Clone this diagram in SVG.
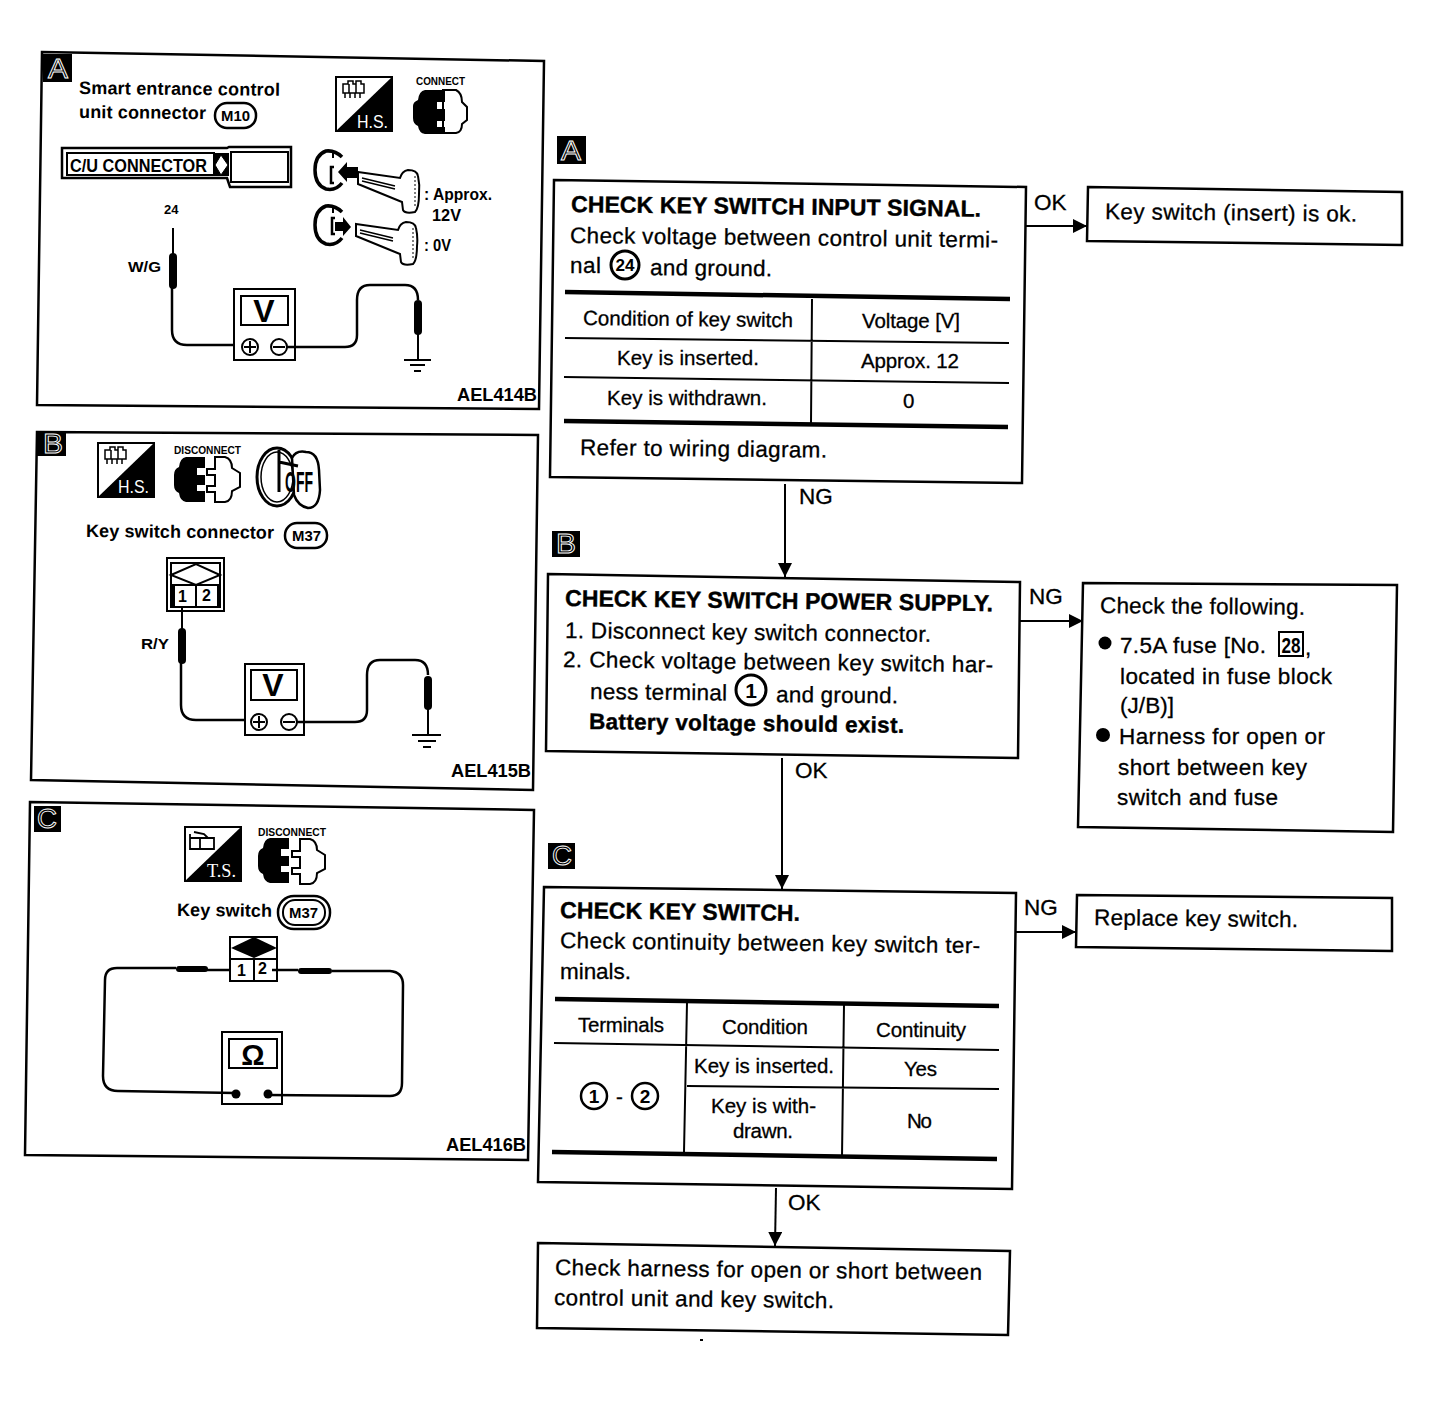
<svg xmlns="http://www.w3.org/2000/svg" xmlns:xlink="http://www.w3.org/1999/xlink" width="1440" height="1420" viewBox="0 0 1440 1420">
<style>
text{font-family:"Liberation Sans",Arial,sans-serif;fill:#000}
.f{font-size:22.5px;stroke:#000;stroke-width:.3}
.r{font-size:20.5px;stroke:#000;stroke-width:.3}
.h{font-size:23px;font-weight:bold;stroke:#000;stroke-width:.4}
.s{font-size:18px;font-weight:bold}
.c{font-size:19px;font-weight:bold}
.t{font-size:10px;font-weight:bold}
.m{font-size:14px;font-weight:bold}
.box,.pn{fill:none;stroke:#000;stroke-width:2.5}
.ln{fill:none;stroke:#000;stroke-width:2}
.th{fill:none;stroke:#000;stroke-width:4.5}
.w{fill:none;stroke:#000;stroke-width:2.5}
.pr{fill:none;stroke:#000;stroke-width:8;stroke-linecap:round}
.wf{fill:#fff;stroke:#000;stroke-width:2}
.bd{fill:#000}
text.bl{font-size:27px;fill:#000;stroke:#fff;stroke-width:.9}
text.ic{font-size:18px;fill:#fff}
.arr{fill:none;stroke:#000;stroke-width:2;marker-end:url(#ah)}
</style>
<defs>
<marker id="ah" markerUnits="userSpaceOnUse" markerWidth="14" markerHeight="14" refX="14" refY="7" orient="auto"><path d="M0 0L14 7L0 14Z" fill="#000"/></marker>
<g id="hs">
<rect x="1" y="1" width="56" height="54" fill="#fff" stroke="#000" stroke-width="2"/>
<path d="M57 1V55H1Z" fill="#000"/>
</g>
<path id="hsg" d="M8 8h5v-3h5v3h3v-3h5v3h3v9h-21zM10 17v5M15 17v5M20 17v5M25 17v5M14 8v9M21 8v9" fill="none" stroke="#000" stroke-width="1.5"/>
<g id="conL"><path d="M12 0H31V11H23V18H31V28H23V34H31V45H12Q6 44 5 36Q0 34 0 28V18Q0 12 5 10Q6 1 12 0Z" fill="#000"/></g>
<g id="conR"><path d="M10 1H20Q27 3 27 12L35 17V31L27 35Q27 45 20 46H10V36H2V30H10V19H2V13H10Z" fill="#fff" stroke="#000" stroke-width="2"/></g>
<g id="key"><path d="M358 172L400 178Q402 171 408 170Q417 170 418 176Q420 185 419 194Q419 208 415 212Q405 214 403 210L402 202L358 184Z" fill="#fff" stroke="#000" stroke-width="2"/><path d="M362 178L395 186M362 181L395 189" stroke="#000" stroke-width="1.5" fill="none"/><path d="M415 176V208" stroke="#000" stroke-width="1" stroke-dasharray="2 2"/></g>
<g id="ign"><path d="M342 157Q335 150 326 151Q315 155 315 170Q315 185 326 189Q336 191 342 183" fill="none" stroke="#000" stroke-width="3.5"/><path d="M333 150V158" class="ln"/></g>
</defs>
<rect width="1440" height="1420" fill="#fff"/>

<g id="panel-a">
<path class="pn" d="M42 52L544 61L539 409L37 405Z"/>
<rect class="bd" x="43" y="54" width="29" height="28"/><text class="bl" x="48" y="78" textLength="20" lengthAdjust="spacingAndGlyphs">A</text>
<text class="s" x="79" y="94" textLength="201" transform="rotate(.5 79 94)">Smart entrance control</text>
<text class="s" x="79" y="118" textLength="127" transform="rotate(.5 79 118)">unit connector</text>
<rect x="215" y="103" width="41" height="25" rx="12" fill="none" stroke="#000" stroke-width="2.5"/><text class="m" x="221" y="121" textLength="29" lengthAdjust="spacingAndGlyphs">M10</text>
<use xlink:href="#hs" href="#hs" x="335" y="76"/><use xlink:href="#hsg" href="#hsg" x="335" y="76"/><text class="ic" x="357" y="128" textLength="31" lengthAdjust="spacingAndGlyphs">H.S.</text>
<text class="t" x="416" y="85" textLength="49" lengthAdjust="spacingAndGlyphs">CONNECT</text>
<path d="M443 90H456Q462 93 462 102L467 107V120L462 124Q462 132 456 133H443Z" fill="#fff" stroke="#000" stroke-width="2"/>
<path d="M425 90H445V102H437V109H445V121H437V127H445V134H425Q419 133 418 126Q413 124 413 118V106Q413 102 418 100Q419 91 425 90Z" fill="#000"/>
<path d="M62 148H227L229 147H291V187H230L227 178H62Z" fill="#fff" stroke="#000" stroke-width="2.5"/>
<rect x="67" y="153" width="147" height="22" fill="none" stroke="#000" stroke-width="2"/>
<rect x="231" y="152" width="57" height="30" fill="none" stroke="#000" stroke-width="2"/>
<rect x="214" y="153" width="15" height="23" class="bd"/>
<path d="M221 155L228 165L221 175L215 165Z" fill="#fff" stroke="#000" stroke-width="1"/>
<text class="s" x="70" y="172" textLength="137" lengthAdjust="spacingAndGlyphs">C/U CONNECTOR</text>
<use xlink:href="#ign" href="#ign"/>
<path d="M334 167H331V183H334" fill="none" stroke="#000" stroke-width="2.5"/>
<use xlink:href="#key" href="#key"/>
<path d="M358 167V178H347V182L338 172L347 162V167Z" class="bd"/>
<use xlink:href="#ign" href="#ign" y="55"/>
<path d="M335 218H332V234H335" fill="none" stroke="#000" stroke-width="2.5"/>
<use xlink:href="#key" href="#key" x="-2" y="52"/>
<path d="M335 222H343V217L351 227L343 236V231H335Z" class="bd"/>
<text x="424" y="200" font-size="17" font-weight="bold" textLength="68" lengthAdjust="spacingAndGlyphs">: Approx.</text>
<text x="432" y="221" font-size="17" font-weight="bold" textLength="29" lengthAdjust="spacingAndGlyphs">12V</text>
<text x="424" y="251" font-size="17" font-weight="bold" textLength="27" lengthAdjust="spacingAndGlyphs">: 0V</text>
<text x="164" y="214" font-size="13" font-weight="bold">24</text>
<text x="128" y="272" font-size="15" font-weight="bold" textLength="33" lengthAdjust="spacingAndGlyphs">W/G</text>
<path class="ln" d="M173 228V255"/><path class="pr" d="M173 257V285"/>
<path class="w" d="M172 287V330Q172 345 187 345H240"/>
<rect x="234" y="289" width="61" height="71" class="wf"/><rect x="241" y="296" width="47" height="29" class="wf"/>
<text x="264" y="322" font-size="32" font-weight="bold" text-anchor="middle">V</text>
<circle cx="250" cy="347" r="8" class="wf"/><path d="M244 347H256M250 341V353" class="ln"/>
<circle cx="279" cy="347" r="8" class="wf"/><path d="M273 347H285" class="ln"/>
<path class="w" d="M287 347H345Q357 347 357 335V300Q357 285 370 285H405Q418 285 418 300"/>
<path class="pr" d="M418 304V331"/><path class="ln" d="M418 333V359"/>
<path class="ln" d="M404 360H431M410 365H425M414 371H421"/>
<text class="c" x="457" y="401" textLength="80" lengthAdjust="spacingAndGlyphs">AEL414B</text>
</g>

<g id="panel-b">
<path class="pn" d="M37 432L538 435L533 790L31 780Z"/>
<rect class="bd" x="37" y="432" width="29" height="24"/><text class="bl" x="43" y="453" textLength="20" lengthAdjust="spacingAndGlyphs">B</text>
<use xlink:href="#hs" href="#hs" x="97" y="442"/><use xlink:href="#hsg" href="#hsg" x="97" y="442"/><text class="ic" x="118" y="493" textLength="31" lengthAdjust="spacingAndGlyphs">H.S.</text>
<text class="t" x="174" y="454" textLength="67" lengthAdjust="spacingAndGlyphs">DISCONNECT</text>
<use xlink:href="#conR" href="#conR" x="205" y="456"/><use xlink:href="#conL" href="#conL" x="174" y="457"/>
<ellipse cx="277" cy="477" rx="20" ry="29" fill="#fff" stroke="#000" stroke-width="3"/>
<ellipse cx="277" cy="477" rx="16" ry="25" fill="none" stroke="#000" stroke-width="1.5"/>
<path d="M292 458Q296 450 306 452Q318 452 319 470L320 490Q319 508 308 508Q298 506 294 495Z" fill="#fff" stroke="#000" stroke-width="2.5"/>
<path d="M279 450V492M279 462L298 466" fill="none" stroke="#000" stroke-width="3"/>
<text x="285" y="492" font-size="30" font-weight="bold" textLength="28" lengthAdjust="spacingAndGlyphs">OFF</text>
<text class="s" x="86" y="537" textLength="188" transform="rotate(.5 86 537)">Key switch connector</text>
<rect x="285" y="523" width="42" height="25" rx="12" fill="none" stroke="#000" stroke-width="2.5"/><text class="m" x="292" y="541" textLength="29" lengthAdjust="spacingAndGlyphs">M37</text>
<rect x="167" y="558" width="57" height="53" class="wf"/><rect x="171" y="563" width="49" height="44" class="wf"/>
<path d="M171 575L196 564L220 575L196 585Z" fill="none" stroke="#000" stroke-width="2"/><path d="M171 585H220M196 585V606" class="ln"/>
<rect x="172" y="586" width="3" height="20" class="bd"/><rect x="217" y="586" width="3" height="20" class="bd"/>
<text x="178" y="602" font-size="16" font-weight="bold">1</text><text x="202" y="601" font-size="16" font-weight="bold">2</text>
<path class="ln" d="M182 608V630"/><path class="pr" d="M182 632V660"/>
<path class="w" d="M181 662V705Q181 720 196 720H250"/>
<rect x="245" y="664" width="59" height="71" class="wf"/><rect x="251" y="670" width="46" height="30" class="wf"/>
<text x="273" y="696" font-size="32" font-weight="bold" text-anchor="middle">V</text>
<circle cx="259" cy="722" r="8" class="wf"/><path d="M253 722H265M259 716V728" class="ln"/>
<circle cx="289" cy="722" r="8" class="wf"/><path d="M283 722H295" class="ln"/>
<path class="w" d="M297 722H355Q367 722 367 710V675Q367 660 380 660H415Q428 660 428 675"/>
<path class="pr" d="M428 680V706"/><path class="ln" d="M428 708V735"/>
<path class="ln" d="M412 735H441M418 741H436"/><path d="M423 747H431" class="ln"/>
<text x="141" y="649" font-size="15" font-weight="bold" textLength="28" lengthAdjust="spacingAndGlyphs">R/Y</text>
<text class="c" x="451" y="777" textLength="80" lengthAdjust="spacingAndGlyphs">AEL415B</text>
</g>

<g id="panel-c">
<path class="pn" d="M30 802L534 810L528 1160L25 1155Z"/>
<rect class="bd" x="34" y="806" width="27" height="26"/><text class="bl" x="37" y="828" textLength="20" lengthAdjust="spacingAndGlyphs">C</text>
<use xlink:href="#hs" href="#hs" x="184" y="826"/>
<path d="M190 838H214V849H190ZM190 838V834M200 838V849M194 832L204 834L208 838" fill="none" stroke="#000" stroke-width="1.8"/>
<text class="ic" x="207" y="877" textLength="29" lengthAdjust="spacingAndGlyphs" style="font-family:'Liberation Serif',serif">T.S.</text>
<text class="t" x="258" y="836" textLength="68" lengthAdjust="spacingAndGlyphs">DISCONNECT</text>
<use xlink:href="#conR" href="#conR" x="290" y="838"/><use xlink:href="#conL" href="#conL" x="258" y="838"/>
<text class="s" x="177" y="916" textLength="95" transform="rotate(.5 177 916)">Key switch</text>
<rect x="278" y="896" width="52" height="33" rx="16" fill="none" stroke="#000" stroke-width="2.5"/>
<rect x="283" y="900" width="42" height="25" rx="12" fill="none" stroke="#000" stroke-width="2"/><text class="m" x="289" y="918" textLength="29" lengthAdjust="spacingAndGlyphs">M37</text>
<rect x="230" y="937" width="47" height="44" class="wf"/>
<path d="M231 948L254 937L277 948L254 958Z" class="bd"/><path d="M231 959H277M254 959V981" class="ln"/>
<text x="237" y="976" font-size="16" font-weight="bold">1</text><text x="258" y="974" font-size="16" font-weight="bold">2</text>
<path class="pr" style="stroke-width:6" d="M179 969H205"/>
<path class="w" d="M231 970H205M176 968H117Q105 968 105 980L103 1076Q103 1091 118 1091L235 1093"/>
<path class="pr" style="stroke-width:6" d="M301 971H329"/>
<path class="w" d="M272 970H298M332 971H390Q403 972 403 985L402 1083Q402 1096 390 1096L268 1095"/>
<rect x="222" y="1032" width="60" height="72" fill="none" stroke="#000" stroke-width="2"/><rect x="229" y="1039" width="48" height="29" class="wf"/>
<text x="253" y="1065" font-size="29" font-weight="bold" text-anchor="middle">Ω</text>
<circle cx="236" cy="1094" r="4.5" class="bd"/><circle cx="268" cy="1094" r="4.5" class="bd"/>
<text class="c" x="446" y="1151" textLength="80" lengthAdjust="spacingAndGlyphs">AEL416B</text>
</g>

<g id="connectors">
<path class="arr" d="M1026 226H1087"/>
<path class="arr" d="M785 484V577"/>
<path class="arr" d="M1020 621H1083"/>
<path class="arr" d="M782 758V889"/>
<path class="arr" d="M1016 932H1076"/>
<path class="arr" d="M776 1188L775 1246"/>
<text class="f" x="1034" y="210">OK</text>
<text class="f" x="799" y="504">NG</text>
<text class="f" x="1029" y="604">NG</text>
<text class="f" x="795" y="778">OK</text>
<text class="f" x="1024" y="915">NG</text>
<text class="f" x="788" y="1210">OK</text>
</g>

<g id="step-a">
<rect class="bd" x="557" y="136" width="29" height="28"/><text class="bl" x="561" y="160" textLength="20" lengthAdjust="spacingAndGlyphs">A</text>
<path class="box" d="M554 180L1026 187L1022 483L550 477Z"/>
<text class="h" x="571" y="212" textLength="410" transform="rotate(.65 571 212)">CHECK KEY SWITCH INPUT SIGNAL.</text>
<text class="f" x="570" y="243" textLength="428" transform="rotate(.6 570 243)">Check voltage between control unit termi-</text>
<text class="f" x="570" y="273" textLength="31">nal</text>
<circle cx="625" cy="265" r="14" fill="none" stroke="#000" stroke-width="3"/><text x="625" y="271" font-size="16" font-weight="bold" text-anchor="middle" textLength="19" lengthAdjust="spacingAndGlyphs">24</text>
<text class="f" x="650" y="275" textLength="122" transform="rotate(.6 650 275)">and ground.</text>
<path class="th" d="M565 292L1010 299M564 421L1008 427"/>
<path class="ln" d="M812 299L811 423M565 338L1009 343M564 377L1009 383"/>
<text class="r" x="583" y="325" textLength="210" transform="rotate(.6 583 325)">Condition of key switch</text>
<text class="r" x="862" y="328" textLength="98">Voltage [V]</text>
<text class="r" x="617" y="365" textLength="142">Key is inserted.</text>
<text class="r" x="861" y="368" textLength="98">Approx. 12</text>
<text class="r" x="607" y="405" textLength="160">Key is withdrawn.</text>
<text class="r" x="903" y="408">0</text>
<text class="f" x="580" y="455" textLength="247" transform="rotate(.6 580 455)">Refer to wiring diagram.</text>
</g>

<g id="result-a">
<path class="box" d="M1088 187L1402 192L1402 245L1087 241Z"/>
<text class="f" x="1105" y="219" textLength="252" transform="rotate(.6 1105 219)">Key switch (insert) is ok.</text>
</g>

<g id="step-b">
<rect class="bd" x="552" y="531" width="28" height="26"/><text class="bl" x="556" y="553" textLength="20" lengthAdjust="spacingAndGlyphs">B</text>
<path class="box" d="M548 574L1020 582L1018 758L546 751Z"/>
<text class="h" x="565" y="606" textLength="428" transform="rotate(.7 565 606)">CHECK KEY SWITCH POWER SUPPLY.</text>
<text class="f" x="565" y="638" textLength="366" transform="rotate(.6 565 638)">1. Disconnect key switch connector.</text>
<text class="f" x="563" y="667" textLength="430" transform="rotate(.7 563 667)">2. Check voltage between key switch har-</text>
<text class="f" x="590" y="699" textLength="137" transform="rotate(.6 590 699)">ness terminal</text>
<circle cx="751" cy="690" r="15" fill="none" stroke="#000" stroke-width="3"/><text x="751" y="698" font-size="21" font-weight="bold" text-anchor="middle">1</text>
<text class="f" x="776" y="702" textLength="122" transform="rotate(.6 776 702)">and ground.</text>
<text class="h" x="589" y="729" textLength="315" transform="rotate(.7 589 729)" style="font-size:22.5px">Battery voltage should exist.</text>
</g>

<g id="result-b">
<path class="box" d="M1083 583L1397 585L1393 832L1078 827Z"/>
<text class="f" x="1100" y="613" textLength="205" transform="rotate(.5 1100 613)">Check the following.</text>
<circle cx="1105" cy="643" r="6.5" class="bd"/>
<text class="f" x="1120" y="653" textLength="146">7.5A fuse [No.</text>
<rect x="1279" y="632" width="24" height="24" fill="none" stroke="#000" stroke-width="2"/><text x="1291" y="653" font-size="22" font-weight="bold" text-anchor="middle" textLength="19" lengthAdjust="spacingAndGlyphs">28</text>
<text class="f" x="1305" y="655">,</text>
<text class="f" x="1120" y="684" textLength="212">located in fuse block</text>
<text class="f" x="1120" y="713" textLength="54">(J/B)]</text>
<circle cx="1103" cy="735" r="7" class="bd"/>
<text class="f" x="1119" y="744" textLength="206">Harness for open or</text>
<text class="f" x="1118" y="775" textLength="189">short between key</text>
<text class="f" x="1117" y="805" textLength="161">switch and fuse</text>
</g>

<g id="step-c">
<rect class="bd" x="548" y="843" width="27" height="26"/><text class="bl" x="552" y="865" textLength="20" lengthAdjust="spacingAndGlyphs">C</text>
<path class="box" d="M544 887L1016 893L1012 1189L538 1182Z"/>
<text class="h" x="560" y="918" textLength="240" transform="rotate(.7 560 918)">CHECK KEY SWITCH.</text>
<text class="f" x="560" y="948" textLength="420" transform="rotate(.7 560 948)">Check continuity between key switch ter-</text>
<text class="f" x="560" y="979" textLength="71">minals.</text>
<path class="th" d="M555 999L999 1006M552 1152L997 1159"/>
<path class="ln" d="M687 1003L684 1152M844 1005L842 1157M554 1043L999 1050M687 1086L999 1089"/>
<text class="r" x="578" y="1032" textLength="86">Terminals</text>
<text class="r" x="722" y="1034" textLength="86">Condition</text>
<text class="r" x="876" y="1037" textLength="90">Continuity</text>
<text class="r" x="694" y="1073" textLength="140">Key is inserted.</text>
<text class="r" x="904" y="1076" textLength="33">Yes</text>
<text class="r" x="711" y="1113" textLength="105">Key is with-</text>
<text class="r" x="733" y="1138" textLength="60">drawn.</text>
<text class="r" x="907" y="1128" textLength="25">No</text>
<circle cx="594" cy="1096" r="13" fill="none" stroke="#000" stroke-width="2.5"/><text x="594" y="1103" font-size="19" font-weight="bold" text-anchor="middle">1</text>
<text class="r" x="616" y="1104">-</text>
<circle cx="645" cy="1096" r="13" fill="none" stroke="#000" stroke-width="2.5"/><text x="645" y="1103" font-size="19" font-weight="bold" text-anchor="middle">2</text>
</g>

<g id="result-c">
<path class="box" d="M1077 895L1392 898L1392 951L1076 947Z"/>
<text class="f" x="1094" y="925" textLength="204" transform="rotate(.6 1094 925)">Replace key switch.</text>
</g>

<g id="result-d">
<path class="box" d="M538 1243L1010 1251L1008 1335L537 1328Z"/>
<text class="f" x="555" y="1275" textLength="427" transform="rotate(.65 555 1275)">Check harness for open or short between</text>
<text class="f" x="554" y="1305" textLength="280" transform="rotate(.65 554 1305)">control unit and key switch.</text>
</g>
<rect x="700" y="1339" width="3" height="2" fill="#000"/>
</svg>
